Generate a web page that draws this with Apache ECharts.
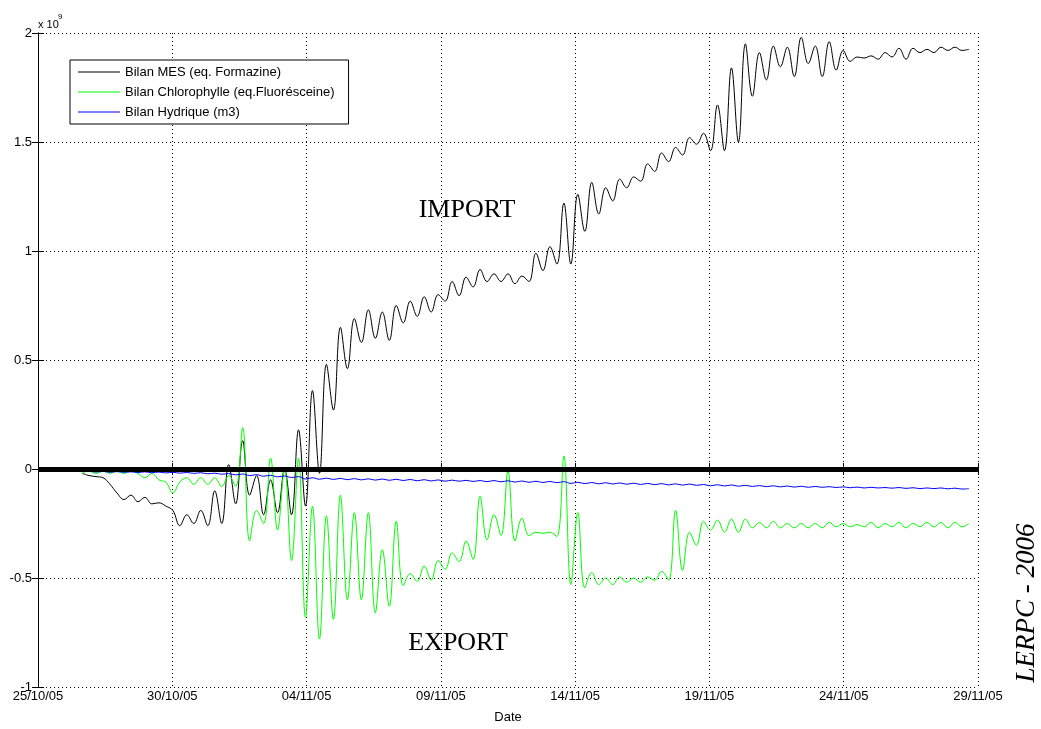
<!DOCTYPE html>
<html>
<head>
<meta charset="utf-8">
<script src="https://cdn.jsdelivr.net/npm/echarts@6/dist/echarts.min.js"></script>
<style>
html,body{margin:0;padding:0;background:#fff;}
#chart{width:1041px;height:729px;}
</style>
</head>
<body>
<div id="chart"></div>
<script>
// x tick labels (days since 25/10/05, every 5 days)
const xTickLabels = ['25/10/05','30/10/05','04/11/05','09/11/05','14/11/05','19/11/05','24/11/05','29/11/05'];
const seriesNames = ['Bilan MES (eq. Formazine)','Bilan Chlorophylle (eq.Fluorésceine)','Bilan Hydrique (m3)'];

// sample times in days after 25/10/05 00:00 (about every half tidal cycle)
const times = [1.64,1.90,2.16,2.42,2.68,2.94,3.20,3.46,3.72,3.98,4.24,4.50,4.76,5.02,5.28,5.54,5.80,6.06,6.32,6.58,6.84,7.10,7.36,7.62,
7.88,8.14,8.40,8.66,8.92,9.18,9.44,9.70,9.96,10.22,10.48,10.74,11.00,11.26,11.52,11.78,12.04,12.30,12.56,12.82,13.08,13.34,13.60,13.86,14.12,14.38,14.64,14.90,
15.16,15.42,15.68,15.94,16.20,16.46,16.72,16.98,17.24,17.50,17.76,18.02,18.28,18.54,18.80,19.06,19.32,19.58,19.84,20.10,20.36,20.62,20.88,21.14,21.40,21.66,21.92,22.18,
22.44,22.70,22.96,23.22,23.48,23.74,24.00,24.26,24.52,24.78,25.04,25.30,25.56,25.82,26.08,26.34,26.60,26.86,27.12,27.38,27.64,27.90,28.16,28.42,28.68,28.94,29.20,29.46,
29.72,29.98,30.24,30.50,30.76,31.02,31.28,31.54,31.80,32.06,32.32,32.58,32.84,33.10,33.36,33.62,33.88,34.14,34.40,34.66];

// values in units of 10^9
const mes = [-0.02,-0.03,-0.035,-0.04,-0.07,-0.11,-0.14,-0.12,-0.15,-0.13,-0.16,-0.155,-0.17,-0.19,-0.26,-0.21,-0.25,-0.19,-0.26,-0.10,-0.25,0.02,-0.16,0.13,
-0.12,-0.03,-0.21,-0.05,-0.20,0.00,-0.21,0.18,-0.17,0.36,-0.02,0.48,0.27,0.65,0.46,0.69,0.58,0.73,0.60,0.72,0.59,0.75,0.67,0.77,0.70,0.79,0.72,0.80,
0.77,0.86,0.795,0.88,0.835,0.915,0.86,0.895,0.86,0.895,0.85,0.885,0.86,0.99,0.91,1.02,0.94,1.22,0.94,1.26,1.09,1.315,1.17,1.29,1.23,1.33,1.29,1.34,
1.32,1.40,1.365,1.45,1.41,1.475,1.44,1.52,1.49,1.54,1.46,1.67,1.46,1.84,1.50,1.95,1.71,1.91,1.785,1.94,1.845,1.935,1.80,1.98,1.86,1.94,1.80,1.96,1.83,1.92,
1.87,1.89,1.885,1.895,1.88,1.91,1.89,1.93,1.88,1.93,1.91,1.925,1.91,1.935,1.92,1.935,1.92,1.925];

const chloro = [-0.02,-0.01,-0.02,-0.01,-0.02,-0.01,-0.02,-0.01,-0.02,-0.04,-0.02,-0.05,-0.06,-0.11,-0.06,-0.04,-0.07,-0.04,-0.07,-0.04,-0.08,-0.03,-0.08,0.19,
-0.33,-0.19,-0.25,0.05,-0.28,0.00,-0.42,0.05,-0.68,-0.17,-0.78,-0.215,-0.69,-0.12,-0.60,-0.20,-0.60,-0.20,-0.66,-0.37,-0.63,-0.24,-0.535,-0.48,-0.515,-0.445,-0.51,-0.42,
-0.46,-0.385,-0.425,-0.33,-0.415,-0.125,-0.325,-0.21,-0.305,-0.01,-0.33,-0.225,-0.305,-0.29,-0.295,-0.29,-0.31,0.06,-0.53,-0.20,-0.545,-0.475,-0.53,-0.50,-0.53,-0.495,-0.52,-0.50,
-0.52,-0.495,-0.51,-0.47,-0.51,-0.19,-0.465,-0.29,-0.35,-0.24,-0.28,-0.235,-0.29,-0.23,-0.29,-0.23,-0.27,-0.245,-0.27,-0.24,-0.27,-0.25,-0.27,-0.25,-0.27,-0.25,-0.27,-0.245,
-0.265,-0.25,-0.265,-0.255,-0.265,-0.245,-0.27,-0.25,-0.265,-0.245,-0.27,-0.25,-0.265,-0.245,-0.265,-0.245,-0.27,-0.245,-0.265,-0.25];

const hydro = [-0.012,-0.010,-0.014,-0.011,-0.015,-0.012,-0.015,-0.013,-0.016,-0.013,-0.017,-0.014,-0.018,-0.015,-0.019,-0.016,-0.020,-0.017,-0.022,-0.019,-0.024,-0.021,-0.027,-0.023,
-0.030,-0.026,-0.033,-0.029,-0.036,-0.032,-0.039,-0.035,-0.046,-0.040,-0.047,-0.042,-0.048,-0.043,-0.049,-0.044,-0.050,-0.045,-0.051,-0.046,-0.052,-0.047,-0.053,-0.048,-0.054,-0.049,-0.055,-0.050,
-0.056,-0.051,-0.056,-0.052,-0.057,-0.053,-0.058,-0.053,-0.059,-0.054,-0.060,-0.055,-0.061,-0.056,-0.062,-0.057,-0.063,-0.058,-0.066,-0.061,-0.067,-0.062,-0.068,-0.063,-0.069,-0.064,-0.070,-0.065,
-0.071,-0.066,-0.072,-0.067,-0.073,-0.068,-0.074,-0.069,-0.075,-0.071,-0.077,-0.072,-0.078,-0.073,-0.079,-0.075,-0.080,-0.076,-0.081,-0.077,-0.082,-0.078,-0.083,-0.079,-0.084,-0.080,-0.084,-0.081,
-0.085,-0.082,-0.086,-0.083,-0.087,-0.084,-0.087,-0.085,-0.088,-0.085,-0.089,-0.086,-0.090,-0.087,-0.090,-0.087,-0.091,-0.088,-0.092,-0.090];

const pair = arr => times.map((t, i) => [t, arr[i]]);
const SANS = '"Liberation Sans", Arial, sans-serif';
const SERIF = '"Liberation Serif", "Times New Roman", serif';

const chart = echarts.init(document.getElementById('chart'), null, {renderer: 'canvas'});
const axisLine = {show: true, lineStyle: {color: '#000', width: 1}};
const tick = {show: true, inside: true, length: 6, lineStyle: {color: '#000', width: 1}};
const grid = {show: true, lineStyle: {color: '#000', width: 1, type: [1, 3]}};

chart.setOption({
  animation: false,
  backgroundColor: '#fff',
  grid: {left: 38, top: 33, right: 63, bottom: 39, containLabel: false},
  legend: {
    data: seriesNames.map(n => ({name: n, icon: 'rect'})),
    orient: 'vertical',
    left: 70, top: 60,
    padding: [5, 14, 5, 8],
    itemWidth: 42, itemHeight: 1, itemGap: 6,
    backgroundColor: '#fff', borderColor: '#000', borderWidth: 1, borderRadius: 0,
    selectedMode: false,
    textStyle: {fontFamily: SANS, fontSize: 13, color: '#000', lineHeight: 14}
  },
  xAxis: [
    {type: 'value', min: 0, max: 35, interval: 5, position: 'bottom',
     axisLine: axisLine, axisTick: tick, splitLine: grid,
     axisLabel: {formatter: v => xTickLabels[Math.round(v / 5)], color: '#000', fontFamily: SANS, fontSize: 13, margin: 3},
     name: 'Date', nameLocation: 'middle', nameGap: 24,
     nameTextStyle: {color: '#000', fontFamily: SANS, fontSize: 13}},
    {type: 'value', min: 0, max: 35, interval: 5, position: 'top',
     axisLine: axisLine, axisTick: tick, splitLine: {show: false}, axisLabel: {show: false}}
  ],
  yAxis: [
    {type: 'value', min: -1, max: 2, interval: 0.5, position: 'left',
     axisLine: axisLine, axisTick: tick, splitLine: grid,
     axisLabel: {color: '#000', fontFamily: SANS, fontSize: 13, margin: 6}},
    {type: 'value', min: -1, max: 2, interval: 0.5, position: 'right',
     axisLine: axisLine, axisTick: tick, splitLine: {show: false}, axisLabel: {show: false}}
  ],
  series: [
    {name: seriesNames[0], type: 'line', data: pair(mes), symbol: 'none', smooth: 0.4,
     lineStyle: {color: '#000', width: 1}, itemStyle: {color: '#000'},
     markLine: {symbol: 'none', silent: true, label: {show: false},
       lineStyle: {color: '#000', width: 5, type: 'solid'}, data: [{yAxis: 0}]}},
    {name: seriesNames[1], type: 'line', data: pair(chloro), symbol: 'none', smooth: 0.4,
     lineStyle: {color: '#00ff00', width: 1}, itemStyle: {color: '#00ff00'}},
    {name: seriesNames[2], type: 'line', data: pair(hydro), symbol: 'none', smooth: 0.4,
     lineStyle: {color: '#0000ff', width: 1}, itemStyle: {color: '#0000ff'}}
  ],
  graphic: [
    {type: 'text', left: 38, top: 19, style: {text: 'x 10', font: '11px ' + SANS, fill: '#000'}},
    {type: 'text', left: 58, top: 13, style: {text: '9', font: '8px ' + SANS, fill: '#000'}},
    {type: 'text', x: 467, y: 210, style: {text: 'IMPORT', font: '26px ' + SERIF, fill: '#000', textAlign: 'center', textVerticalAlign: 'middle'}},
    {type: 'text', x: 458, y: 643, style: {text: 'EXPORT', font: '26px ' + SERIF, fill: '#000', textAlign: 'center', textVerticalAlign: 'middle'}},
    {type: 'text', x: 1027, y: 603, rotation: Math.PI / 2, style: {text: 'LERPC - 2006', font: 'italic 27px ' + SERIF, fill: '#000', textAlign: 'center', textVerticalAlign: 'middle'}}
  ]
});
</script>
</body>
</html>
